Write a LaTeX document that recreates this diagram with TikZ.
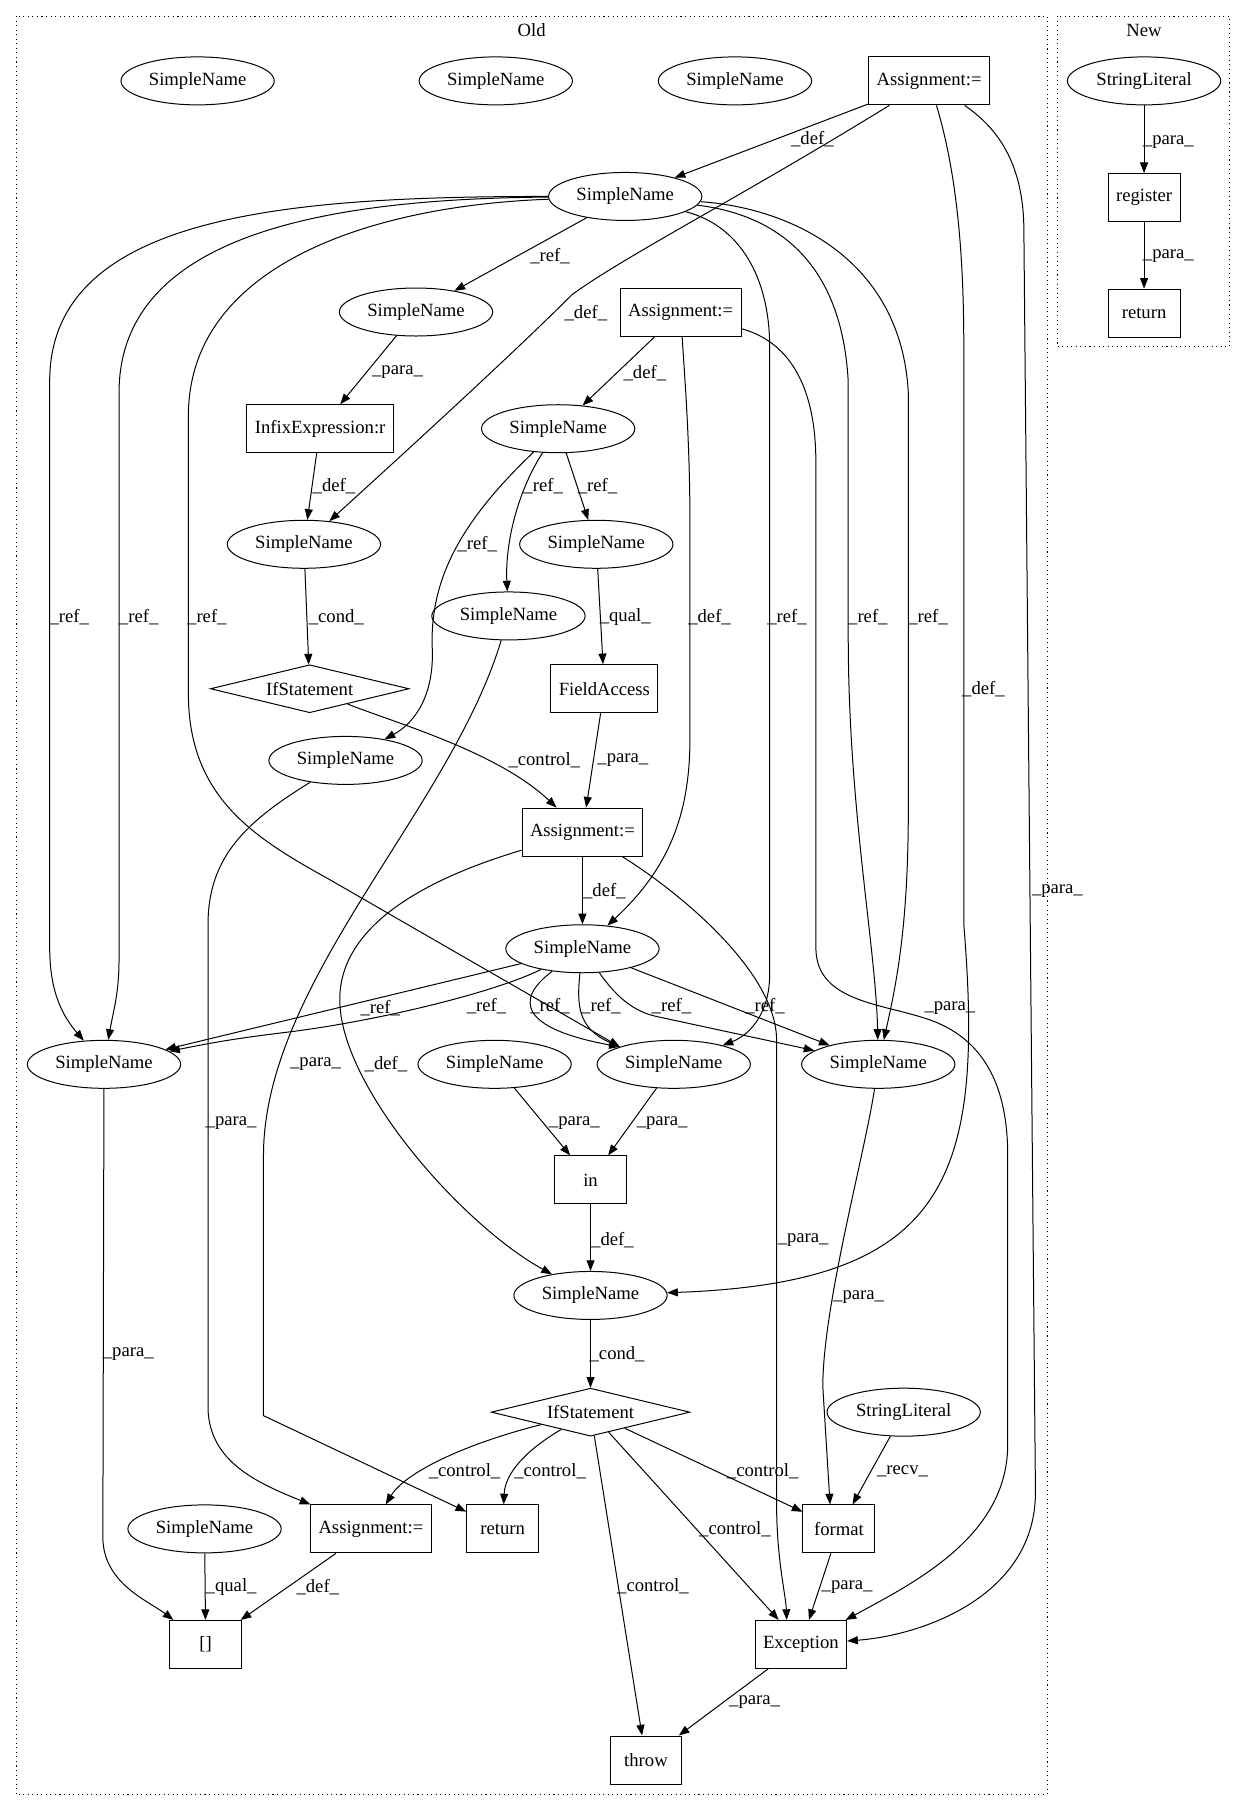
\documentclass[tikz,border=0pt]{standalone}
\usepackage{fontspec}
\setmainfont{Liberation Serif}
\usetikzlibrary{arrows.meta,shapes.geometric}

\begin{document}
\begin{tikzpicture}[x=0.867pt,y=-0.867pt,line width=0.75pt,
    font=\fontsize{14pt}{17pt}\selectfont,
    sname/.style={draw,ellipse,minimum width=115pt,minimum height=36pt,inner sep=0pt},
    opbox/.style={draw,rectangle,minimum width=54pt,minimum height=36pt,inner xsep=6pt},
    ifbox/.style={draw,diamond,aspect=4,minimum width=149pt,minimum height=36pt,inner sep=0pt},
    flow/.style={-{Triangle[length=8pt,width=6pt]}},
    elabel/.style={inner sep=0pt},
    cluster/.style={dash pattern=on 0.8pt off 2.6pt}]

    \useasboundingbox (0,0) rectangle (1077,1568);

    % 1. The two clusters
    \draw[cluster] (14,14) rectangle (906,1553);
    \draw[cluster] (915,14) rectangle (1064,300);
    \node (oldlbl) at (460,26) {Old};
    \node (newlbl) at (990,26) {New};

    % 2. Nodes of the old graph
    \node[sname] (snA) at (171,70) {SimpleName};
    \node[sname] (snB) at (429,70) {SimpleName};
    \node[sname] (snC) at (636,70) {SimpleName};
    \node[opbox] (asgA) at (804,70) {Assignment:=};
    \node[sname] (snX) at (541,170) {SimpleName};
    \node[sname] (snR) at (360,270) {SimpleName};
    \node[opbox] (asgB) at (589,270) {Assignment:=};
    \node[opbox] (infix) at (277,371) {InfixExpression:r};
    \node[sname] (snD) at (483,371) {SimpleName};
    \node[sname] (snCa) at (263,471) {SimpleName};
    \node[sname] (snE) at (516,471) {SimpleName};
    \node[sname] (snF) at (440,533) {SimpleName};
    \node[ifbox] (ifA) at (268,596) {IfStatement};
    \node[opbox] (field) at (523,596) {FieldAccess};
    \node[sname] (snG) at (299,658) {SimpleName};
    \node[opbox] (asgC) at (504,720) {Assignment:=};
    \node[sname] (snH) at (504,821) {SimpleName};
    \node[sname] (snL) at (90,921) {SimpleName};
    \node[sname] (snI) at (428,921) {SimpleName};
    \node[sname] (snJ) at (583,921) {SimpleName};
    \node[sname] (snRt) at (760,921) {SimpleName};
    \node[opbox] (inop) at (511,1021) {in};
    \node[sname] (snCb) at (511,1121) {SimpleName};
    \node[ifbox] (ifB) at (511,1222) {IfStatement};
    \node[sname] (strB) at (782,1222) {StringLiteral};
    \node[sname] (snK) at (177,1323) {SimpleName};
    \node[opbox] (asgD) at (321,1323) {Assignment:=};
    \node[opbox] (retA) at (435,1323) {return};
    \node[opbox] (fmt) at (726,1323) {format};
    \node[opbox] (idx) at (178,1423) {[]};
    \node[opbox] (exc) at (693,1423) {Exception};
    \node[opbox] (thr) at (559,1523) {throw};

    % 3. Nodes of the new graph
    \node[sname] (strA) at (990,70) {StringLiteral};
    \node[opbox] (reg) at (990,171) {register};
    \node[opbox] (retB) at (990,271) {return};

    % 4. Edges from the top assignment
    \draw[flow] (asgA) -- (snX) node[elabel] at (703,120) {\_def\_};
    \draw[flow] (asgA) .. controls (640,171) and (540,222) .. (495,255)
        .. controls (440,310) and (330,410) .. (snCa) node[elabel] at (507,271) {\_def\_};
    \draw[flow] (asgA) .. controls (828,150) and (834,220) .. (834,300) -- (834,800)
        .. controls (852,1020) and (820,1110) .. (snCb) node[elabel] at (851,596) {\_def\_};
    \draw[flow] (asgA) .. controls (862,110) and (886,140) .. (886,200) -- (896,1290)
        .. controls (897,1380) and (800,1415) .. (exc) node[elabel] at (915,771) {\_para\_};

    % 5. References of the first SimpleName
    \draw[flow] (snX) -- (snR) node[elabel] at (476,222) {\_ref\_};
    \draw[flow] (snX) .. controls (250,170) and (43,185) .. (43,330) -- (43,820)
        .. controls (43,860) and (55,880) .. (snL) node[elabel] at (60,534) {\_ref\_};
    \draw[flow] (snX) .. controls (290,172) and (103,200) .. (103,340) -- (103,830)
        .. controls (103,860) and (98,875) .. (snL) node[elabel] at (120,534) {\_ref\_};
    \draw[flow] (snX) .. controls (320,178) and (163,230) .. (163,360) -- (163,600)
        .. controls (163,690) and (220,725) .. (285,761) -- (snJ.162) node[elabel] at (179,534) {\_ref\_};
    \draw[flow] (snX) .. controls (640,195) and (666,240) .. (666,300) -- (666,840)
        .. controls (667,875) and (650,895) .. (snJ) node[elabel] at (681,534) {\_ref\_};
    \draw[flow] (snX) .. controls (665,185) and (728,220) .. (734,330) -- (734,550)
        .. controls (734,700) and (758,820) .. (snRt) node[elabel] at (751,534) {\_ref\_};
    \draw[flow] (snX) .. controls (685,180) and (780,225) .. (786,340) -- (786,700)
        .. controls (786,800) and (776,850) .. (snRt) node[elabel] at (803,534) {\_ref\_};

    % 6. Second assignment
    \draw[flow] (asgB) -- (snD) node[elabel] at (558,323) {\_def\_};
    \draw[flow] (asgB) .. controls (592,320) and (597,380) .. (597,450) -- (597,640)
        .. controls (597,710) and (575,755) .. (snH) node[elabel] at (614,534) {\_def\_};
    \draw[flow] (asgB) .. controls (680,295) and (706,330) .. (706,400) -- (706,820)
        .. controls (706,870) and (770,868) .. (811,885)
        .. controls (858,905) and (872,950) .. (872,1000) -- (872,1250)
        .. controls (872,1330) and (790,1370) .. (exc) node[elabel] at (822,872) {\_para\_};
    \draw[flow] (snD) -- (snE) node[elabel] at (517,421) {\_ref\_};
    \draw[flow] (snD) .. controls (448,425) and (437,470) .. (snF) node[elabel] at (470,421) {\_ref\_};
    \draw[flow] (snD) .. controls (400,450) and (372,500) .. (374,560)
        .. controls (376,600) and (360,625) .. (snG) node[elabel] at (413,471) {\_ref\_};
    \draw[flow] (snE) -- (field) node[elabel] at (541,534) {\_qual\_};
    \draw[flow] (field) -- (asgC) node[elabel] at (539,658) {\_para\_};

    % 7. Condition of the first if
    \draw[flow] (snR) -- (infix) node[elabel] at (344,322) {\_para\_};
    \draw[flow] (infix) -- (snCa) node[elabel] at (289,421) {\_def\_};
    \draw[flow] (snCa) -- (ifA) node[elabel] at (291,534) {\_cond\_};
    \draw[flow] (ifA) .. controls (340,625) and (430,650) .. (asgC) node[elabel] at (471,658) {\_control\_};
    \draw[flow] (snF) .. controls (390,700) and (228,850) .. (228,1000) -- (228,1225)
        -- (retA) node[elabel] at (273,921) {\_para\_};
    \draw[flow] (snG) .. controls (215,710) and (180,740) .. (180,800) -- (180,1220)
        .. controls (182,1265) and (222,1283) .. (asgD) node[elabel] at (200,972) {\_para\_};

    % 8. Third assignment
    \draw[flow] (asgC) -- (snH) node[elabel] at (523,771) {\_def\_};
    \draw[flow] (asgC) .. controls (370,760) and (294,800) .. (294,865)
        .. controls (294,940) and (400,1060) .. (snCb) node[elabel] at (334,921) {\_def\_};
    \draw[flow] (asgC) .. controls (585,770) and (672,840) .. (672,900) -- (672,1300)
        .. controls (672,1350) and (680,1380) .. (exc.120) node[elabel] at (695,1073) {\_para\_};

    % 9. References of the SimpleName under it
    \draw[flow] (snH) -- (snL) node[elabel] at (329,872) {\_ref\_};
    \draw[flow] (snH) .. controls (430,858) and (330,883) .. (250,893)
        .. controls (200,899) and (180,903) .. (snL) node[elabel] at (421,871) {\_ref\_};
    \draw[flow] (snH) .. controls (445,865) and (450,890) .. (snJ.162) node[elabel] at (476,871) {\_ref\_};
    \draw[flow] (snH) .. controls (499,870) and (500,890) .. (snJ.162) node[elabel] at (520,871) {\_ref\_};
    \draw[flow] (snH) .. controls (535,865) and (550,876) .. (570,880) -- (snRt) node[elabel] at (581,871) {\_ref\_};
    \draw[flow] (snH) -- (snRt) node[elabel] at (662,871) {\_ref\_};

    % 10. The in test and the second if
    \draw[flow] (snI) -- (inop) node[elabel] at (497,972) {\_para\_};
    \draw[flow] (snJ) -- (inop) node[elabel] at (573,972) {\_para\_};
    \draw[flow] (inop) -- (snCb) node[elabel] at (530,1073) {\_def\_};
    \draw[flow] (snCb) -- (ifB) node[elabel] at (534,1172) {\_cond\_};
    \draw[flow] (ifB) .. controls (400,1250) and (350,1275) .. (asgD) node[elabel] at (402,1273) {\_control\_};
    \draw[flow] (ifB) .. controls (455,1255) and (437,1275) .. (retA) node[elabel] at (476,1273) {\_control\_};
    \draw[flow] (ifB) -- (fmt) node[elabel] at (660,1273) {\_control\_};
    \draw[flow] (ifB) -- (exc) node[elabel] at (636,1323) {\_control\_};
    \draw[flow] (ifB) -- (thr) node[elabel] at (565,1373) {\_control\_};
    \draw[flow] (strB) -- (fmt) node[elabel] at (781,1273) {\_recv\_};
    \draw[flow] (snRt) .. controls (748,1000) and (712,1130) .. (712,1200)
        -- (fmt.110) node[elabel] at (743,1122) {\_para\_};
    \draw[flow] (fmt) -- (exc) node[elabel] at (733,1373) {\_para\_};
    \draw[flow] (exc) -- (thr) node[elabel] at (653,1473) {\_para\_};

    % 11. The index expression
    \draw[flow] (snK) -- (idx) node[elabel] at (200,1373) {\_qual\_};
    \draw[flow] (asgD) -- (idx) node[elabel] at (275,1373) {\_def\_};
    \draw[flow] (snL) -- (89,1330) .. controls (89,1370) and (128,1385) .. (idx)
        node[elabel] at (111,1172) {\_para\_};

    % 12. New graph
    \draw[flow] (strA) -- (reg) node[elabel] at (1011,123) {\_para\_};
    \draw[flow] (reg) -- (retB) node[elabel] at (1011,222) {\_para\_};
\end{tikzpicture}
\end{document}
